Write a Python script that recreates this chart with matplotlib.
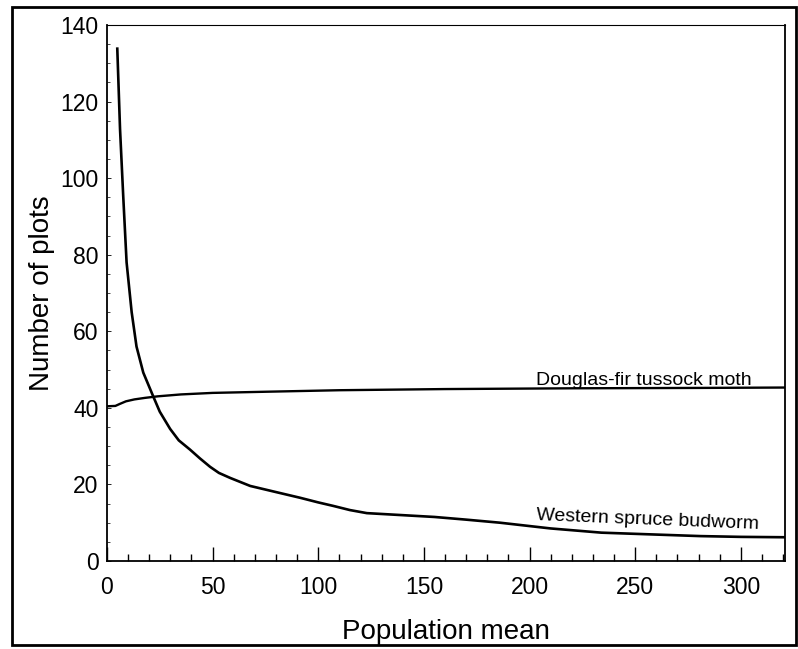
import numpy as np
import matplotlib.pyplot as plt
from matplotlib.patches import Rectangle
from matplotlib.ticker import MultipleLocator

plt.rcParams['font.family'] = ['Liberation Sans', 'DejaVu Sans']

# values
budworm_x = [4.9, 6.2, 7.7, 9.3, 11.7, 14, 17.2, 21.9, 25, 29.9, 34, 39.3, 44, 48.8, 53, 58.3,
             67.8, 80, 91.5, 100, 107, 115, 123, 139, 155, 170, 186, 210, 234, 260, 281, 300, 321]
budworm_y = [133.8, 112.8, 95.4, 78, 65, 56, 49.2, 43, 39, 34.5, 31.5, 29.1, 26.8, 24.6, 23, 21.7,
             19.6, 18, 16.5, 15.3, 14.4, 13.3, 12.5, 12, 11.5, 10.8, 10, 8.5, 7.4, 6.9, 6.5, 6.3, 6.2]
moth_x = [0, 4, 6, 9, 13, 18, 24, 35, 50, 75, 110, 160, 220, 280, 321]
moth_y = [40.4, 40.5, 41.0, 41.7, 42.2, 42.6, 43.0, 43.5, 43.9, 44.2, 44.6, 44.9, 45.1, 45.2, 45.3]

fig = plt.figure(figsize=(7.98, 6.49), dpi=100)
ax = fig.add_axes([0.134, 0.1356, 0.85, 0.826])

ax.plot(budworm_x, budworm_y, color='black', lw=1.9, solid_joinstyle='round')
ax.plot(moth_x, moth_y, color='black', lw=1.7, solid_joinstyle='round')

ax.set_xlim(0, 321)
ax.set_ylim(0, 140)
ax.xaxis.set_major_locator(MultipleLocator(50))
ax.xaxis.set_minor_locator(MultipleLocator(10))
ax.yaxis.set_major_locator(MultipleLocator(20))
ax.yaxis.set_minor_locator(MultipleLocator(5))
ax.tick_params(axis='x', which='major', direction='in', length=10, width=1, labelsize=16.5, pad=11)
ax.tick_params(axis='x', which='minor', direction='in', length=5, width=1)
ax.tick_params(axis='y', which='major', direction='in', length=3, width=0.6, labelsize=16.5, pad=6)
ax.tick_params(axis='y', which='minor', direction='in', length=2, width=0.5)

for s in ax.spines.values():
    s.set_linewidth(1.3)
ax.spines['top'].set_linewidth(0.8)

ax.set_xlabel('Population mean', fontsize=20, labelpad=14)
ax.set_ylabel('Number of plots', fontsize=20, labelpad=4)

ax.text(203, 46, 'Douglas-fir tussock moth', fontsize=14, ha='left', va='baseline')
ax.text(203, 10.7, 'Western spruce budworm', fontsize=14, ha='left', va='baseline',
        rotation=-2.3, rotation_mode='anchor')

# border round the whole figure
fig.patches.append(Rectangle((12 / 798, 4 / 649), 784 / 798, 638 / 649,
                             transform=fig.transFigure, fill=False, lw=2, color='black'))

fig.savefig('out.png', dpi=100)
